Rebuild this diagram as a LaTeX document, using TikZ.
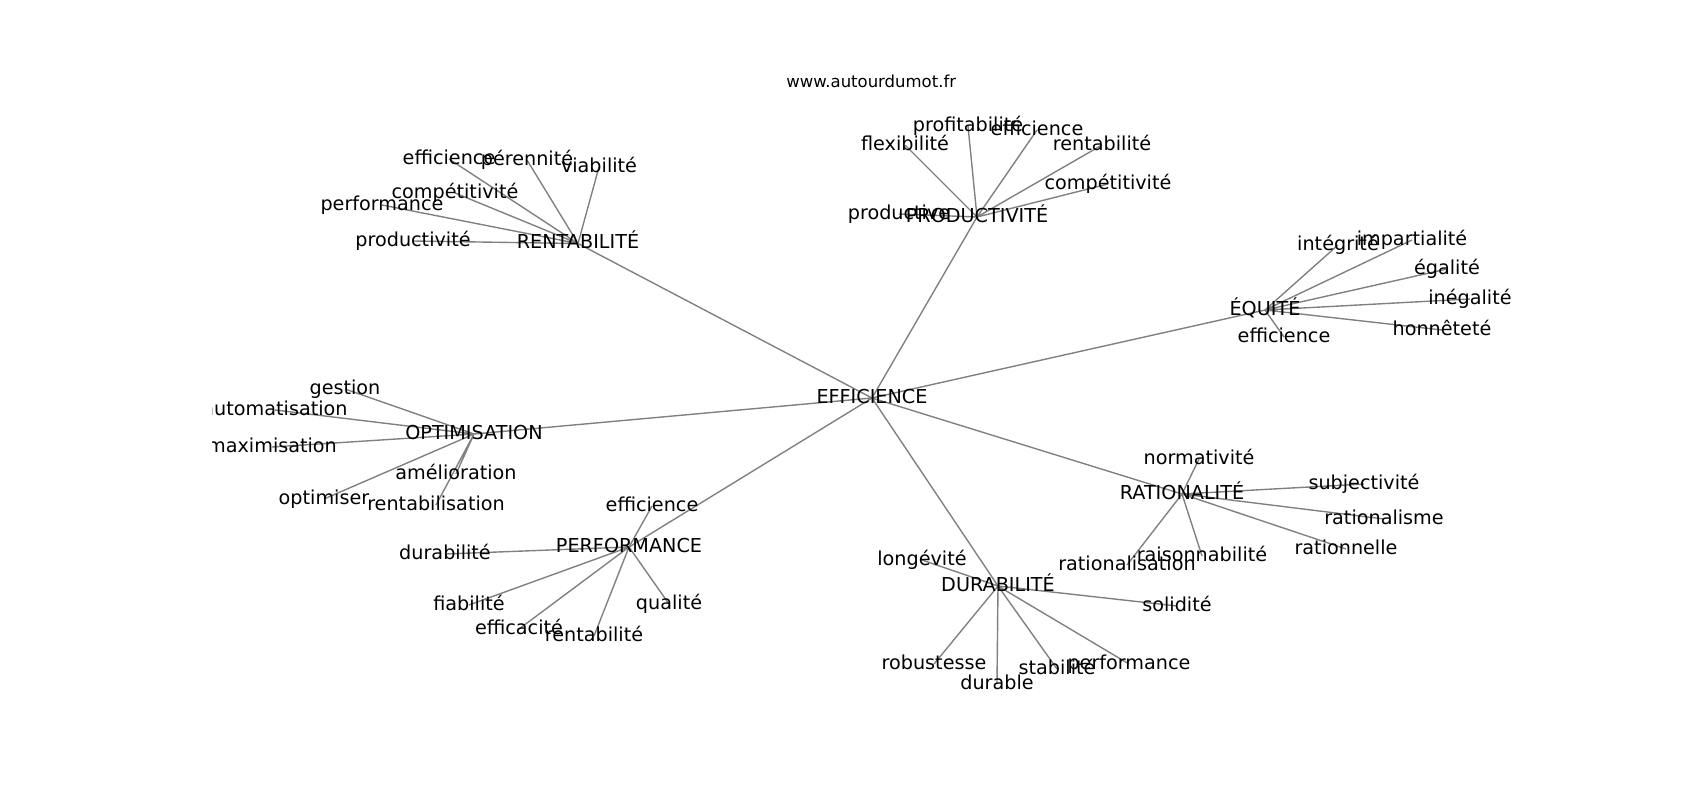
\documentclass[tikz,border=0pt]{standalone}
\usepackage{fontspec}
\setmainfont{DejaVu Sans}
\usetikzlibrary{backgrounds}

\tikzset{
  mot/.style={inner sep=0pt, text height=14.6pt, text depth=4.6pt,
    font=\fontsize{19.2}{23}\selectfont},
  titre/.style={inner sep=0pt, anchor=base, font=\fontsize{16.5}{20}\selectfont},
  lien/.style={draw=gray, line width=1.39pt},
}

\begin{document}
\begin{tikzpicture}[x=1pt,y=-1pt]
\useasboundingbox (0,0) rectangle (1700,800);
\node[titre] (site) at (871.25,87.7) {www.autourdumot.fr};

\begin{scope}
\clip (212.5,96) rectangle (1530,712);
% centre
\node[mot] (eff) at (872,398) {EFFICIENCE};
% RENTABILITÉ
\node[mot] (ren) at (578,243.5) {RENTABILITÉ};
\node[mot] (ren-eff) at (449,159) {efficience};
\node[mot] (ren-per) at (527,160) {pérennité};
\node[mot] (ren-via) at (599,167) {viabilité};
\node[mot] (ren-com) at (455,193) {compétitivité};
\node[mot] (ren-perf) at (382,205) {performance};
\node[mot] (ren-pro) at (413,241) {productivité};
% PRODUCTIVITÉ
\node[mot] (pro) at (977,217) {PRODUCTIVITÉ};
\node[mot] (pro-pro) at (899,214) {productive};
\node[mot] (pro-fle) at (905,145) {flexibilité};
\node[mot] (pro-prof) at (968,126) {profitabilité};
\node[mot] (pro-eff) at (1037,130) {efficience};
\node[mot] (pro-ren) at (1102,145) {rentabilité};
\node[mot] (pro-com) at (1108,184) {compétitivité};
% ÉQUITÉ
\node[mot] (equ) at (1265,310) {ÉQUITÉ};
\node[mot] (equ-int) at (1338,245) {intégrité};
\node[mot] (equ-imp) at (1412,240) {impartialité};
\node[mot] (equ-ega) at (1447,269) {égalité};
\node[mot] (equ-ine) at (1470,299) {inégalité};
\node[mot] (equ-hon) at (1442,330) {honnêteté};
\node[mot] (equ-eff) at (1284,337) {efficience};
% OPTIMISATION
\node[mot] (opt) at (474,434) {OPTIMISATION};
\node[mot] (opt-ges) at (345,389) {gestion};
\node[mot] (opt-aut) at (275,410) {automatisation};
\node[mot] (opt-max) at (272,447) {maximisation};
\node[mot] (opt-ame) at (456,474) {amélioration};
\node[mot] (opt-opt) at (324,499) {optimiser};
\node[mot] (opt-ren) at (436,505) {rentabilisation};
% PERFORMANCE
\node[mot] (per) at (629,547) {PERFORMANCE};
\node[mot] (per-eff) at (652,506) {efficience};
\node[mot] (per-dur) at (445,554) {durabilité};
\node[mot] (per-fia) at (469,605) {fiabilité};
\node[mot] (per-qua) at (669,604) {qualité};
\node[mot] (per-effi) at (519,629) {efficacité};
\node[mot] (per-ren) at (594,636) {rentabilité};
% DURABILITÉ
\node[mot] (dur) at (998,586) {DURABILITÉ};
\node[mot] (dur-lon) at (922,560) {longévité};
\node[mot] (dur-sol) at (1177,606) {solidité};
\node[mot] (dur-rob) at (934,664) {robustesse};
\node[mot] (dur-dur) at (997,684) {durable};
\node[mot] (dur-sta) at (1057,669) {stabilité};
\node[mot] (dur-per) at (1129,664) {performance};
% RATIONALITÉ
\node[mot] (rat) at (1182,494) {RATIONALITÉ};
\node[mot] (rat-nor) at (1199,459) {normativité};
\node[mot] (rat-sub) at (1364,484) {subjectivité};
\node[mot] (rat-rat) at (1384,519) {rationalisme};
\node[mot] (rat-rnl) at (1346,549) {rationnelle};
\node[mot] (rat-rai) at (1202,556) {raisonnabilité};
\node[mot] (rat-rls) at (1127,565) {rationalisation};
\end{scope}

\begin{scope}[on background layer]
\draw[lien] (eff.center) -- (ren.center) (eff.center) -- (pro.center)
  (eff.center) -- (equ.center) (eff.center) -- (opt.center)
  (eff.center) -- (per.center) (eff.center) -- (dur.center)
  (eff.center) -- (rat.center);
\draw[lien] (ren.center) -- (ren-eff.center) (ren.center) -- (ren-per.center)
  (ren.center) -- (ren-via.center) (ren.center) -- (ren-com.center)
  (ren.center) -- (ren-perf.center) (ren.center) -- (ren-pro.center);
\draw[lien] (pro.center) -- (pro-pro.center) (pro.center) -- (pro-fle.center)
  (pro.center) -- (pro-prof.center) (pro.center) -- (pro-eff.center)
  (pro.center) -- (pro-ren.center) (pro.center) -- (pro-com.center);
\draw[lien] (equ.center) -- (equ-int.center) (equ.center) -- (equ-imp.center)
  (equ.center) -- (equ-ega.center) (equ.center) -- (equ-ine.center)
  (equ.center) -- (equ-hon.center) (equ.center) -- (equ-eff.center);
\draw[lien] (opt.center) -- (opt-ges.center) (opt.center) -- (opt-aut.center)
  (opt.center) -- (opt-max.center) (opt.center) -- (opt-ame.center)
  (opt.center) -- (opt-opt.center) (opt.center) -- (opt-ren.center);
\draw[lien] (per.center) -- (per-eff.center) (per.center) -- (per-dur.center)
  (per.center) -- (per-fia.center) (per.center) -- (per-qua.center)
  (per.center) -- (per-effi.center) (per.center) -- (per-ren.center);
\draw[lien] (dur.center) -- (dur-lon.center) (dur.center) -- (dur-sol.center)
  (dur.center) -- (dur-rob.center) (dur.center) -- (dur-dur.center)
  (dur.center) -- (dur-sta.center) (dur.center) -- (dur-per.center);
\draw[lien] (rat.center) -- (rat-nor.center) (rat.center) -- (rat-sub.center)
  (rat.center) -- (rat-rat.center) (rat.center) -- (rat-rnl.center)
  (rat.center) -- (rat-rai.center) (rat.center) -- (rat-rls.center);
\end{scope}
\end{tikzpicture}
\end{document}
